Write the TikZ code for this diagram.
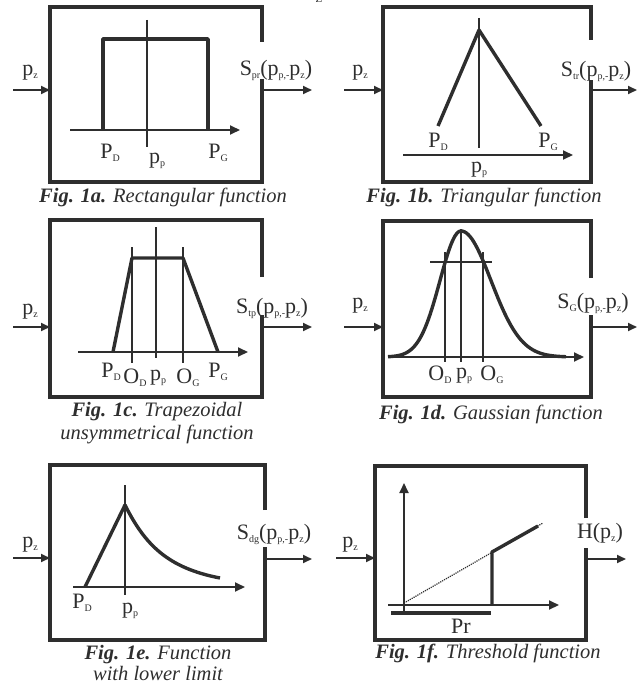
\documentclass[tikz,border=0pt]{standalone}
\usepackage{fontspec}
\setmainfont{Liberation Serif}
\usetikzlibrary{arrows.meta}

\definecolor{ink}{HTML}{2E2E2E}
% small lowered subscript
\newcommand{\sbs}[1]{\raisebox{-0.3ex}{\fontsize{10}{10}\selectfont #1}}

\tikzset{
  panel/.style={draw=none, inner sep=0pt, outer sep=0pt, anchor=north west},
  frame/.style={line width=3.2pt, draw=ink},
  func/.style={line width=3.4pt, draw=ink, line join=round},
  guide/.style={line width=1.8pt, draw=ink},
  axis/.style={line width=2pt, draw=ink, -{Triangle[length=10pt,width=9pt]}},
  io/.style={line width=1.8pt, draw=ink, -{Triangle[length=9pt,width=8pt]}},
  lbl/.style={text=ink, inner sep=0pt, anchor=base, font=\fontsize{22}{24}\selectfont},
  figcap/.style={text=ink, inner sep=0pt, anchor=base, font=\fontsize{20.5}{23}\selectfont\itshape},
}

\begin{document}
\begin{tikzpicture}[x=1pt,y=-1pt]
\useasboundingbox (0,0) rectangle (642,685);

% cut-off text at the top edge
\node[lbl, font=\fontsize{11}{11}\selectfont] (topz) at (319,3) {Z};

%% Fig. 1a -- rectangular
\node[panel, minimum width=212pt, minimum height=175pt] (boxA) at (50,7) {};
\draw[frame] (262,42) -- (boxA.north east) -- (boxA.north west)
  -- (boxA.south west) -- (boxA.south east) -- (262,79);
\coordinate (inA) at (13,90);
\coordinate (outA) at (312,90);
\draw[io] (inA) -- (inA -| boxA.west);
\draw[io] (outA -| boxA.east) -- (outA);
\draw[axis] (70,130) -- (240,130);
\draw[guide] (147,20) -- (147,147);
\draw[func] (103,130) -- (103,39) -- (208,39) -- (208,130);
\node[lbl] (pzA) at (30,75) {p\sbs{z}};
\node[lbl] (sA) at (276,75) {S\sbs{pr}(p\sbs{p,-}p\sbs{z})};
\node[lbl] (pdA) at (110,158) {P\sbs{D}};
\node[lbl] (ppA) at (157,163) {p\sbs{p}};
\node[lbl] (pgA) at (218,158) {P\sbs{G}};
\node[figcap] (capA) at (163,202) {\textbf{Fig. 1a.} Rectangular function};

%% Fig. 1b -- triangular
\node[panel, minimum width=208pt, minimum height=175pt] (boxB) at (383,7) {};
\draw[frame] (591,40) -- (boxB.north east) -- (boxB.north west)
  -- (boxB.south west) -- (boxB.south east) -- (591,80);
\coordinate (inB) at (344,90);
\coordinate (outB) at (637,90);
\draw[io] (inB) -- (inB -| boxB.west);
\draw[io] (outB -| boxB.east) -- (outB);
\draw[axis] (403,155) -- (573,155);
\draw[guide] (479,18) -- (479,148);
\draw[func] (438,126) -- (479,30) -- (541,126);
\node[lbl] (pzB) at (360,75) {p\sbs{z}};
\node[lbl] (sB) at (596,76) {S\sbs{tr}(p\sbs{p,-}p\sbs{z})};
\node[lbl] (pdB) at (438,147) {P\sbs{D}};
\node[lbl] (pgB) at (548,147) {P\sbs{G}};
\node[lbl] (ppB) at (479,172) {p\sbs{p}};
\node[figcap] (capB) at (484,202) {\textbf{Fig. 1b.} Triangular function};

%% Fig. 1c -- trapezoidal
\node[panel, minimum width=212pt, minimum height=177pt] (boxC) at (50,220) {};
\draw[frame] (262,277) -- (boxC.north east) -- (boxC.north west)
  -- (boxC.south west) -- (boxC.south east) -- (262,315);
\coordinate (inC) at (13,327);
\coordinate (outC) at (312,327);
\draw[io] (inC) -- (inC -| boxC.west);
\draw[io] (outC -| boxC.east) -- (outC);
\draw[axis] (78,352) -- (248,352);
\draw[guide] (132,247) -- (132,363);
\draw[guide] (156,227) -- (156,358);
\draw[guide] (183,247) -- (183,363);
\draw[func] (113,352) -- (132,258) -- (183,258) -- (218,352);
\node[lbl] (pzC) at (30,314) {p\sbs{z}};
\node[lbl] (sC) at (272,313) {S\sbs{tp}(p\sbs{p,-}p\sbs{z})};
\node[lbl] (pdC) at (111,377) {P\sbs{D}};
\node[lbl] (odC) at (135,383) {O\sbs{D}};
\node[lbl] (ppC) at (158,380) {p\sbs{p}};
\node[lbl] (ogC) at (188,383) {O\sbs{G}};
\node[lbl] (pgC) at (218,377) {P\sbs{G}};
\node[figcap] (capC) at (157,416) {\textbf{Fig. 1c.} Trapezoidal};
\node[figcap] (capCb) at (157,439) {unsymmetrical function};

%% Fig. 1d -- gaussian
\node[panel, minimum width=208pt, minimum height=176pt] (boxD) at (383,221) {};
\draw[frame] (591,278) -- (boxD.north east) -- (boxD.north west)
  -- (boxD.south west) -- (boxD.south east) -- (591,315);
\coordinate (inD) at (344,327);
\coordinate (outD) at (637,327);
\draw[io] (inD) -- (inD -| boxD.west);
\draw[io] (outD -| boxD.east) -- (outD);
\draw[axis] (388,357) -- (584,357);
\draw[guide] (430,262) -- (492,262);
\draw[guide] (445,252) -- (445,362);
\draw[guide] (461,229) -- (461,362);
\draw[guide] (483,252) -- (483,362);
\draw[func] plot[domain=388:461, samples=50, smooth]
  (\x,{357-126*exp(-((\x-461)^2)/882)})
  -- plot[domain=461:566, samples=60, smooth]
  (\x,{357-126*exp(-((\x-461)^2)/1800)});
\node[lbl] (pzD) at (360,308) {p\sbs{z}};
\node[lbl] (sD) at (593,308) {S\sbs{G}(p\sbs{p,-}p\sbs{z})};
\node[lbl] (odD) at (440,380) {O\sbs{D}};
\node[lbl] (ppD) at (464,378) {p\sbs{p}};
\node[lbl] (ogD) at (492,380) {O\sbs{G}};
\node[figcap] (capD) at (491,419) {\textbf{Fig. 1d.} Gaussian function};

%% Fig. 1e -- lower limit
\node[panel, minimum width=215pt, minimum height=175pt] (boxE) at (50,465) {};
\draw[frame] (265,510) -- (boxE.north east) -- (boxE.north west)
  -- (boxE.south west) -- (boxE.south east) -- (265,547);
\coordinate (inE) at (13,558);
\coordinate (outE) at (312,559);
\draw[io] (inE) -- (inE -| boxE.west);
\draw[io] (outE -| boxE.east) -- (outE);
\draw[axis] (73,587) -- (245,587);
\draw[guide] (125,485) -- (125,595);
\draw[func] (85,587) -- (125,505) .. controls (145,545) and (168,568) .. (220,578);
\node[lbl] (pzE) at (30,547) {p\sbs{z}};
\node[lbl] (sE) at (274,539) {S\sbs{dg}(p\sbs{p,-}p\sbs{z})};
\node[lbl] (pdE) at (82,608) {P\sbs{D}};
\node[lbl] (ppE) at (130,613) {p\sbs{p}};
\node[figcap] (capE) at (158,659) {\textbf{Fig. 1e.} Function};
\node[figcap] (capEb) at (158,680) {with lower limit};

%% Fig. 1f -- threshold
\node[panel, minimum width=211pt, minimum height=174pt] (boxF) at (375,466) {};
\draw[frame] (586,518) -- (boxF.north east) -- (boxF.north west)
  -- (boxF.south west) -- (boxF.south east) -- (586,548);
\coordinate (inF) at (336,558);
\coordinate (outF) at (626,559);
\draw[io] (inF) -- (inF -| boxF.west);
\draw[io] (outF -| boxF.east) -- (outF);
\draw[axis] (404,613) -- (404,483);
\draw[axis] (388,605) -- (559,605);
\draw[func] (391,613) -- (491,613);
\draw[ink, line width=1.2pt, densely dotted] (404,603) -- (543,523);
\draw[func] (492,605) -- (492,552) -- (538,526);
\node[lbl] (pzF) at (350,547) {p\sbs{z}};
\node[lbl] (hF) at (600,538) {H(p\sbs{z})};
\node[lbl] (prF) at (461,633) {Pr};
\node[figcap] (capF) at (488,658) {\textbf{Fig. 1f.} Threshold function};

\end{tikzpicture}
\end{document}
